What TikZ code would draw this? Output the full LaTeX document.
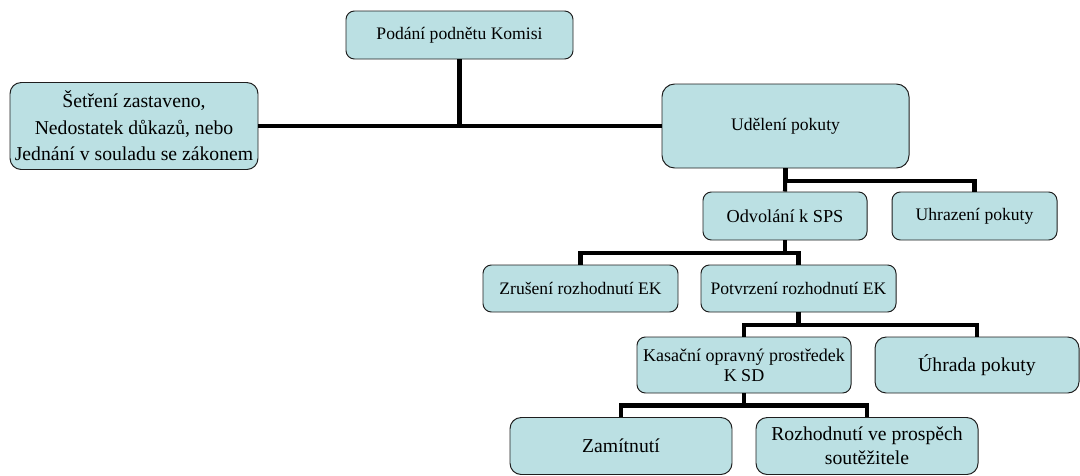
\documentclass[tikz,border=0pt]{standalone}
\usepackage{fontspec}
\setmainfont{Liberation Serif}
\usepackage{tikz}
\usetikzlibrary{
  positioning,
  calc
}
\definecolor{boxfill}{RGB}{187,224,227}
\definecolor{boxline}{RGB}{30,30,30}

\begin{document}
\begin{tikzpicture}[
  x=0.025cm, y=-0.025cm,
  stepbox/.style={
    draw=boxline,
    fill=boxfill,
    line width=0.7pt,
    rounded corners=6pt,
    inner sep=1pt,
    font=\fontsize{12.5}{14.5}\selectfont,
    align=center
  },
  bigbox/.style={
    stepbox,
    rounded corners=8pt,
    font=\fontsize{14}{18}\selectfont
  },
  conn/.style={
    line width=2.9pt,
    black
  }
]
  \useasboundingbox (0,0) rectangle (1080,475);

  % Top level
  \node[stepbox, minimum width=227*0.025cm, minimum height=48*0.025cm] (podani) at (459.5, 35) {Podání podnětu Komisi};
  \node[bigbox, minimum width=248*0.025cm, minimum height=87*0.025cm, font=\fontsize{14}{18.8}\selectfont] (setreni) at (134, 126)
    {Šetření zastaveno,\\Nedostatek důkazů, nebo\\Jednání v souladu se zákonem};
  \node[stepbox, rounded corners=9pt, minimum width=247*0.025cm, minimum height=84*0.025cm] (udeleni) at (785.5, 126) {Udělení pokuty};

  % Appeal level
  \node[stepbox, minimum width=164*0.025cm, minimum height=48*0.025cm, font=\fontsize{13}{15}\selectfont] (odvolani) at (785, 216) {Odvolání k SPS};
  \node[stepbox, minimum width=165*0.025cm, minimum height=48*0.025cm] (uhrazeni) at (974.5, 216) {Uhrazení pokuty};

  \node[stepbox, minimum width=195*0.025cm, minimum height=47*0.025cm] (zruseni) at (580.5, 288.5) {Zrušení rozhodnutí EK};
  \node[stepbox, minimum width=195*0.025cm, minimum height=47*0.025cm] (potvrzeni) at (798.5, 288.5) {Potvrzení rozhodnutí EK};

  % Court level
  \node[stepbox, minimum width=214*0.025cm, minimum height=56*0.025cm, font=\fontsize{12.8}{14.2}\selectfont] (kasacni) at (744, 365)
    {Kasační opravný prostředek\\K SD};
  \node[bigbox, minimum width=204*0.025cm, minimum height=56*0.025cm] (uhrada) at (977, 365) {Úhrada pokuty};

  \node[bigbox, minimum width=222*0.025cm, minimum height=57*0.025cm] (zamitnuti) at (621, 446) {Zamítnutí};
  \node[bigbox, minimum width=222*0.025cm, minimum height=57*0.025cm, font=\fontsize{14}{17}\selectfont] (rozhodnuti) at (867, 446)
    {Rozhodnutí ve prospěch\\soutěžitele};

  % Connectors
  \draw[conn] (setreni.east) -- (udeleni.west);
  \draw[conn] (podani.south) -- (podani.south |- setreni.east);

  \draw[conn] (udeleni.south) -- ++(0,12.5) -| (uhrazeni.north);
  \draw[conn] (udeleni.south) -- (odvolani.north);

  \draw[conn] (odvolani.south) -- ++(0,12.5) -| (zruseni.north);
  \draw[conn] (odvolani.south) ++(0,12.5) -| (potvrzeni.north);

  \draw[conn] (potvrzeni.south) -- ++(0,12.5) -| (kasacni.north);
  \draw[conn] (potvrzeni.south) ++(0,12.5) -| (uhrada.north);

  \draw[conn] (kasacni.south) -- ++(0,12) -| (zamitnuti.north);
  \draw[conn] (kasacni.south) ++(0,12) -| (rozhodnuti.north);
\end{tikzpicture}
\end{document}
